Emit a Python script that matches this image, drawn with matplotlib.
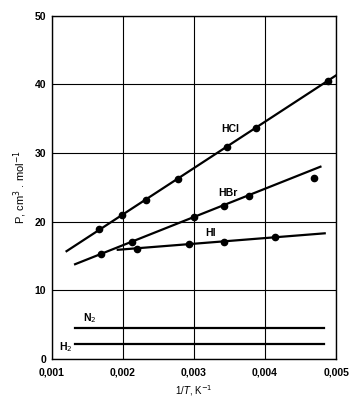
import matplotlib
matplotlib.use("Agg")
import matplotlib.pyplot as plt

# measured points
hcl_x = [0.00166, 0.00199, 0.00233, 0.00278, 0.00346, 0.00387, 0.00489]
hcl_y = [18.9, 21.0, 23.1, 26.2, 30.9, 33.7, 40.5]
hbr_x = [0.00170, 0.00213, 0.00300, 0.00343, 0.00378, 0.00469]
hbr_y = [15.3, 17.1, 20.7, 22.3, 23.8, 26.3]
hi_x = [0.00220, 0.00293, 0.00343, 0.00414]
hi_y = [16.0, 16.7, 17.0, 17.7]

# fitted lines (end points)
hcl_fit_x = [0.00121, 0.00500]
hcl_fit_y = [15.7, 41.3]
hbr_fit_x = [0.00133, 0.00478]
hbr_fit_y = [13.8, 28.0]
hi_fit_x = [0.00193, 0.00484]
hi_fit_y = [15.9, 18.3]
n2_x = [0.00133, 0.00483]
n2_y = [4.47, 4.47]
h2_x = [0.00133, 0.00483]
h2_y = [2.2, 2.2]

xticks = [0.001, 0.002, 0.003, 0.004, 0.005]
xtick_labels = ["0,001", "0,002", "0,003", "0,004", "0,005"]
yticks = [0, 10, 20, 30, 40, 50]

plt.rcParams['font.family'] = ['Liberation Sans', 'DejaVu Sans']

fig = plt.figure(figsize=(3.61, 4.0), dpi=100)
ax = fig.add_axes([0.143, 0.1025, 0.788, 0.8585])

lw = 1.6
ax.plot(hcl_fit_x, hcl_fit_y, color='black', lw=lw)
ax.plot(hbr_fit_x, hbr_fit_y, color='black', lw=lw)
ax.plot(hi_fit_x, hi_fit_y, color='black', lw=lw)
ax.plot(n2_x, n2_y, color='black', lw=lw)
ax.plot(h2_x, h2_y, color='black', lw=lw)

for xs, ys in [(hcl_x, hcl_y), (hbr_x, hbr_y), (hi_x, hi_y)]:
    ax.plot(xs, ys, 'o', color='black', ms=4.5, clip_on=False)

ax.text(0.00351, 33.5, "HCl", fontsize=7.5, ha='center', va='center', fontweight='bold')
ax.text(0.00348, 24.2, "HBr", fontsize=7.5, ha='center', va='center', fontweight='bold')
ax.text(0.00323, 18.4, "HI", fontsize=7.5, ha='center', va='center', fontweight='bold')
ax.text(0.00154, 5.9, "N$_2$", fontsize=7.5, ha='center', va='center', fontweight='bold')
ax.text(0.00120, 1.7, "H$_2$", fontsize=7.5, ha='center', va='center', fontweight='bold')

ax.set_xlim(0.001, 0.005)
ax.set_ylim(0, 50)
ax.set_xticks(xticks)
ax.set_xticklabels(xtick_labels)
ax.set_yticks(yticks)
ax.tick_params(length=0, labelsize=7.5)
ax.tick_params(axis='x', pad=6)
ax.tick_params(axis='y', pad=4)
for lab in ax.get_xticklabels() + ax.get_yticklabels():
    lab.set_fontweight('bold')
ax.grid(True, color='black', lw=0.8)
ax.set_axisbelow(True)
for s in ax.spines.values():
    s.set_linewidth(1.0)

ax.set_xlabel("1/$T$, K$^{-1}$", fontsize=7)
ax.set_ylabel("P, cm$^3$ . mol$^{-1}$", fontsize=8)

fig.savefig("out.png", dpi=100)
